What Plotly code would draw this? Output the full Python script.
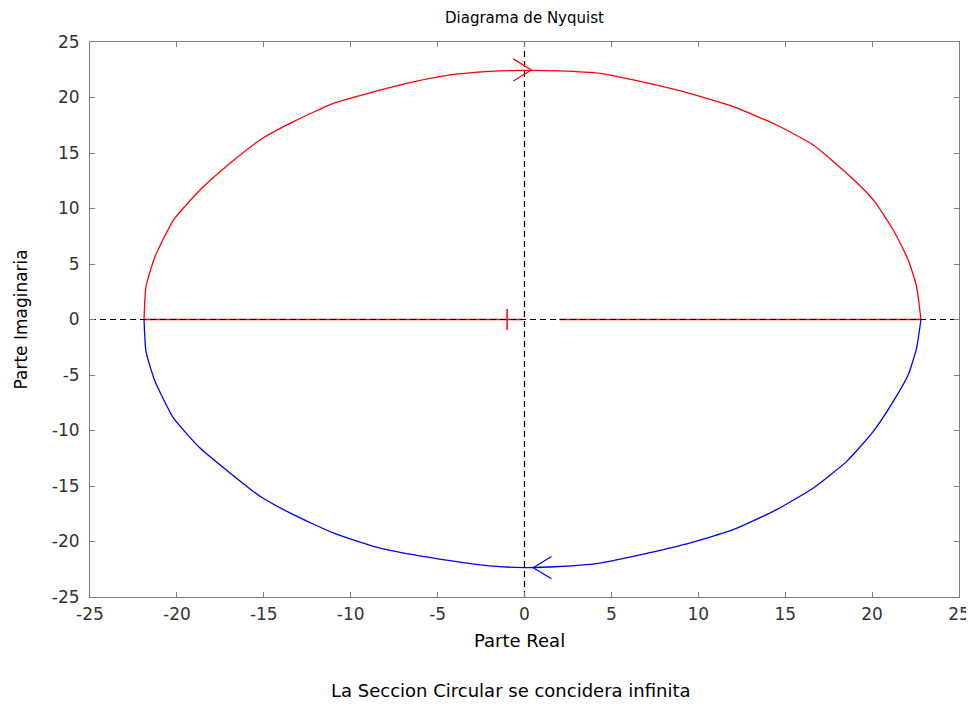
import plotly.graph_objects as go

# Upper half of the Nyquist contour (red)
upper_re = [-21.89, -21.78, -21.26, -20.20, -18.67, -16.94, -15.22, -13.30, -11.00, -8.70, -6.40, -4.29,
            -2.00, 0.00, 2.00, 4.34, 6.26, 9.14, 12.01, 14.51, 16.62, 18.54, 20.07, 21.22, 22.08, 22.56, 22.81]
upper_im = [0.00, 2.96, 5.66, 8.96, 11.67, 14.07, 16.17, 17.82, 19.48, 20.50, 21.40, 22.03,
            22.35, 22.45, 22.40, 22.18, 21.58, 20.52, 19.17, 17.52, 15.72, 13.17, 10.77, 8.06, 5.36, 2.96, 0.00]

# Lower half (blue)
lower_re = [-21.89, -21.78, -21.26, -20.20, -18.67, -16.94, -15.22, -13.30, -11.00, -8.70, -6.40, -4.29,
            -2.00, 0.00, 2.00, 4.34, 6.26, 9.14, 12.01, 14.51, 16.62, 18.54, 20.07, 21.22, 22.08, 22.56, 22.81]
lower_im = [0.00, -2.87, -5.57, -8.87, -11.58, -13.83, -15.93, -17.58, -19.23, -20.43, -21.19, -21.73,
            -22.20, -22.35, -22.25, -21.94, -21.34, -20.29, -18.94, -17.13, -15.18, -12.78, -10.07, -7.37, -4.97, -2.57, 0.00]

# Red segments lying on the real axis
axis_seg_re = [-21.89, -0.10, None, 2.00, 22.81]
axis_seg_im = [0.0, 0.0, None, 0.0, 0.0]

# Critical point
crit_re = [-1.0]
crit_im = [0.0]

# Direction arrows: tip position and direction (+1 right, -1 left)
arrow_red = (0.4, 22.48, 1)
arrow_blue = (0.5, -22.36, -1)

x_ticks = [-25, -20, -15, -10, -5, 0, 5, 10, 15, 20, 25]
x_tick_text = ["-25", "-20", "-15", "-10", "-5", "0", "5", "10", "15", "20", "25"]
y_ticks = [-25, -20, -15, -10, -5, 0, 5, 10, 15, 20, 25]
y_tick_text = ["-25", "-20", "-15", "-10", "-5", "0", "5", "10", "15", "20", "25"]

FONT = "DejaVu Sans"
GRAY = "#7f7f7f"
TXT = "#333333"


def chevron(tip, arm_dx=1.05, arm_dy=1.0):
    x0, y0, d = tip
    return ([x0 - d * arm_dx, x0, x0 - d * arm_dx], [y0 + arm_dy, y0, y0 - arm_dy])


fig = go.Figure()
fig.add_trace(go.Scatter(x=upper_re, y=upper_im, mode="lines",
                         line=dict(color="#ff0000", width=1.3, shape="spline", smoothing=0.5),
                         hoverinfo="skip"))
fig.add_trace(go.Scatter(x=lower_re, y=lower_im, mode="lines",
                         line=dict(color="#0000ff", width=1.3, shape="spline", smoothing=0.5),
                         hoverinfo="skip"))
fig.add_trace(go.Scatter(x=axis_seg_re, y=axis_seg_im, mode="lines",
                         line=dict(color="#ff0000", width=1.3), hoverinfo="skip"))
# dashed coordinate axes
fig.add_trace(go.Scatter(x=[x_ticks[0], x_ticks[-1]], y=[0, 0], mode="lines",
                         line=dict(color="black", width=1.2, dash="6px,4px"), hoverinfo="skip"))
fig.add_trace(go.Scatter(x=[0, 0], y=[y_ticks[0], y_ticks[-1]], mode="lines",
                         line=dict(color="black", width=1.2, dash="6px,4px"), hoverinfo="skip"))
fig.add_trace(go.Scatter(x=crit_re, y=crit_im, mode="markers",
                         marker=dict(symbol="line-ns", size=15, line=dict(color="#ff0000", width=1.5)),
                         hoverinfo="skip"))
ax, ay = chevron(arrow_red)
fig.add_trace(go.Scatter(x=ax, y=ay, mode="lines", line=dict(color="#ff0000", width=1.2), hoverinfo="skip"))
bx, by = chevron(arrow_blue)
fig.add_trace(go.Scatter(x=bx, y=by, mode="lines", line=dict(color="#0000ff", width=1.2), hoverinfo="skip"))

axis_common = dict(showgrid=False, zeroline=False, showline=True, linecolor=GRAY, linewidth=1,
                   mirror="ticks", ticks="inside", ticklen=5, tickcolor=GRAY, tickwidth=1,
                   automargin=False,
                   tickfont=dict(family=FONT, size=17, color=TXT))
fig.update_xaxes(range=[-25, 25], tickvals=x_ticks, ticktext=x_tick_text, ticklabelstandoff=2,
                 **axis_common)
fig.update_yaxes(range=[-25, 25], tickvals=y_ticks, ticktext=y_tick_text, ticklabelstandoff=6,
                 **axis_common)

# page body adds an 8px offset, so the figure is 8px smaller than the window
fig.update_layout(
    width=966, height=701,
    margin=dict(l=82, r=15, t=34, b=112),
    paper_bgcolor="white", plot_bgcolor="white",
    showlegend=False,
    font=dict(family=FONT, size=17, color="black"),
    annotations=[
        dict(text="Diagrama de Nyquist", x=0.5, y=1, xref="paper", yref="paper",
             yshift=24, xanchor="center", yanchor="middle", showarrow=False,
             font=dict(family=FONT, size=15, color="black")),
        dict(text="Parte Real", x=0.4937, y=0, xref="paper", yref="paper",
             yshift=-43, xanchor="center", yanchor="middle", showarrow=False,
             font=dict(family=FONT, size=18, color="black")),
        dict(text="Parte Imaginaria", x=0, y=0.5, xref="paper", yref="paper",
             xshift=-70, textangle=-90, xanchor="center", yanchor="middle", showarrow=False,
             font=dict(family=FONT, size=17, color="black")),
        dict(text="La Seccion Circular se concidera infinita", x=0.4845, y=0, xref="paper", yref="paper",
             yshift=-93, xanchor="center", yanchor="middle", showarrow=False,
             font=dict(family=FONT, size=18, color="black")),
    ],
)

fig.write_html("out.html")
